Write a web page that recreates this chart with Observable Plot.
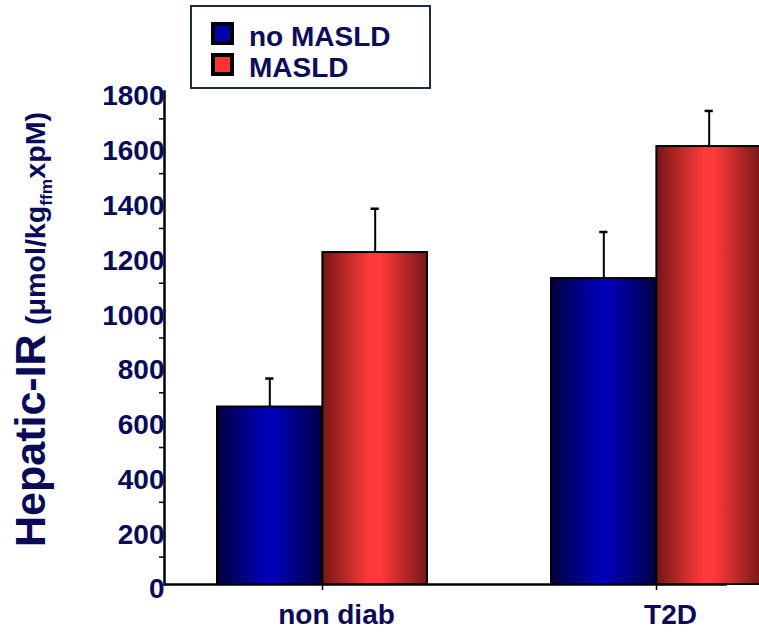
<!DOCTYPE html>
<html>
<head>
<meta charset="utf-8">
<script src="https://cdn.jsdelivr.net/npm/d3@7"></script>
<script src="https://cdn.jsdelivr.net/npm/@observablehq/plot@0.6"></script>
<style>
  html, body { margin: 0; padding: 0; background: #fff; overflow: hidden; }
  #wrap { position: relative; width: 759px; height: 633px; overflow: hidden; font-family: "Liberation Sans", Arial, sans-serif; }
  #wrap svg { overflow: hidden; }
  #legend { position: absolute; left: 190px; top: 5px; width: 237px; height: 80px; border: 2px solid #1c2b4c; background: #fff; box-sizing: content-box; }
  .item { position: absolute; left: 19px; font-weight: bold; font-size: 28px; color: #0c0c5c; line-height: 1; white-space: nowrap; }
  .sw { position: absolute; left: 0; width: 15px; height: 15px; border: 4px solid #000; }
  .lbl { position: absolute; left: 38px; top: 1px; }
</style>
</head>
<body>
<div id="wrap"></div>
<script>
// ---- data ----
const groups = ["non diab", "T2D"];
const series = ["no MASLD", "MASLD"];
const noMasldValues = [648, 1117];
const masldValues = [1212, 1599];
const noMasldErrors = [104, 170];
const masldErrors = [160, 130];
const yTicks = [0, 200, 400, 600, 800, 1000, 1200, 1400, 1600, 1800];
const yMinorTicks = [100, 300, 500, 700, 900, 1100, 1300, 1500, 1700];

// ---- styles ----
const navy = "#0a0a5a";
const seriesGradients = {
  "no MASLD": {id: "gBlue", edgeL: "#00003e", mid: "#0000b4", edgeR: "#000048", swatch: "#0000a8"},
  "MASLD": {id: "gRed", edgeL: "#761616", mid: "#ff3a3a", edgeR: "#761818", swatch: "#ff3333"}
};

const rows = [];
groups.forEach((g, i) => {
  rows.push({group: g, series: series[0], value: noMasldValues[i], err: noMasldErrors[i]});
  rows.push({group: g, series: series[1], value: masldValues[i], err: masldErrors[i]});
});

const width = 759, height = 633;
const marginLeft = 164, marginRight = -56, marginTop = 91, marginBottom = 49;
const paddingInner = 0.37, paddingOuter = 0.158;
const span = width - marginLeft - marginRight;
const step = span / (groups.length - paddingInner + 2 * paddingOuter);
const BAND = step * (1 - paddingInner);
const capHalf = 4.5;

const defsMark = () => {
  const defs = d3.create("svg:defs");
  for (const s of series) {
    const c = seriesGradients[s];
    const lg = defs.append("linearGradient").attr("id", c.id)
      .attr("x1", 0).attr("x2", 1).attr("y1", 0).attr("y2", 0);
    lg.append("stop").attr("offset", "0%").attr("stop-color", c.edgeL);
    lg.append("stop").attr("offset", "45%").attr("stop-color", c.mid);
    lg.append("stop").attr("offset", "55%").attr("stop-color", c.mid);
    lg.append("stop").attr("offset", "100%").attr("stop-color", c.edgeR);
  }
  return defs.node();
};

const yLabelMark = () => {
  const g = d3.create("svg:g")
    .attr("fill", navy)
    .attr("text-anchor", "start")
    .attr("font-family", "'Liberation Sans', Arial, sans-serif")
    .attr("font-weight", "bold");
  g.append("text")
    .attr("text-anchor", "start")
    .attr("transform", "translate(45,547) rotate(-90)")
    .attr("font-size", 43)
    .text("Hepatic-IR");
  const t = g.append("text")
    .attr("text-anchor", "start")
    .attr("transform", "translate(45,325) rotate(-90)")
    .attr("font-size", 28)
    .attr("textLength", 213)
    .attr("lengthAdjust", "spacingAndGlyphs");
  t.append("tspan").text("(\u03bcmol/kg");
  t.append("tspan").attr("font-size", 17).attr("dy", 7).text("ffm");
  t.append("tspan").attr("dy", -7).text("xpM)");
  return g.node();
};

const blue = rows.filter(d => d.series === series[0]);
const red = rows.filter(d => d.series === series[1]);

const chart = Plot.plot({
  width, height, marginLeft, marginRight, marginTop, marginBottom,
  style: {background: "transparent", fontFamily: "'Liberation Sans', Arial, sans-serif", overflow: "hidden"},
  x: {domain: groups, paddingInner, paddingOuter, label: null},
  y: {domain: [0, 1800], label: null},
  marks: [
    defsMark,
    Plot.barY(blue, {x: "group", y: "value", fill: "url(#gBlue)", stroke: "black", strokeWidth: 2, insetRight: BAND / 2}),
    Plot.barY(red, {x: "group", y: "value", fill: "url(#gRed)", stroke: "black", strokeWidth: 2, insetLeft: BAND / 2}),
    Plot.ruleX(blue, {x: "group", y1: "value", y2: d => d.value + d.err, dx: -BAND / 4, stroke: "black", strokeWidth: 2}),
    Plot.ruleX(red, {x: "group", y1: "value", y2: d => d.value + d.err, dx: BAND / 4, stroke: "black", strokeWidth: 2}),
    Plot.tickY(blue, {x: "group", y: d => d.value + d.err, insetLeft: BAND / 4 - capHalf, insetRight: BAND * 3 / 4 - capHalf, stroke: "black", strokeWidth: 2.5}),
    Plot.tickY(red, {x: "group", y: d => d.value + d.err, insetLeft: BAND * 3 / 4 - capHalf, insetRight: BAND / 4 - capHalf, stroke: "black", strokeWidth: 2.5}),
    Plot.ruleY([0], {stroke: "black", strokeWidth: 2.5, insetRight: 88}),
    Plot.frame({anchor: "left", stroke: "black", strokeWidth: 2.5}),
    Plot.axisY(yMinorTicks, {tickSize: 5, tickFormat: () => "", stroke: "black", strokeWidth: 1.5, label: null}),
    Plot.axisY(yTicks, {tickSize: 0, tickPadding: 0, tickFormat: d => String(d), fontSize: 28, fontWeight: "bold", fill: navy, dy: 5, label: null}),
    Plot.axisX({tickSize: 6, tickFormat: () => "", stroke: "black", strokeWidth: 1.5, label: null}),
    Plot.axisX({tickSize: 0, tickPadding: 20, fontSize: 28, fontWeight: "bold", fill: navy, dx: 14, label: null}),
    yLabelMark
  ]
});

const wrap = document.getElementById("wrap");
wrap.appendChild(chart);

// legend (HTML, built from the series arrays)
const legend = document.createElement("div");
legend.id = "legend";
series.forEach((s, i) => {
  const item = document.createElement("div");
  item.className = "item";
  item.style.top = (15 + i * 31) + "px";
  const sw = document.createElement("div");
  sw.className = "sw";
  sw.style.background = seriesGradients[s].swatch;
  const lbl = document.createElement("div");
  lbl.className = "lbl";
  lbl.textContent = s;
  item.appendChild(sw);
  item.appendChild(lbl);
  legend.appendChild(item);
});
wrap.appendChild(legend);
</script>
</body>
</html>
